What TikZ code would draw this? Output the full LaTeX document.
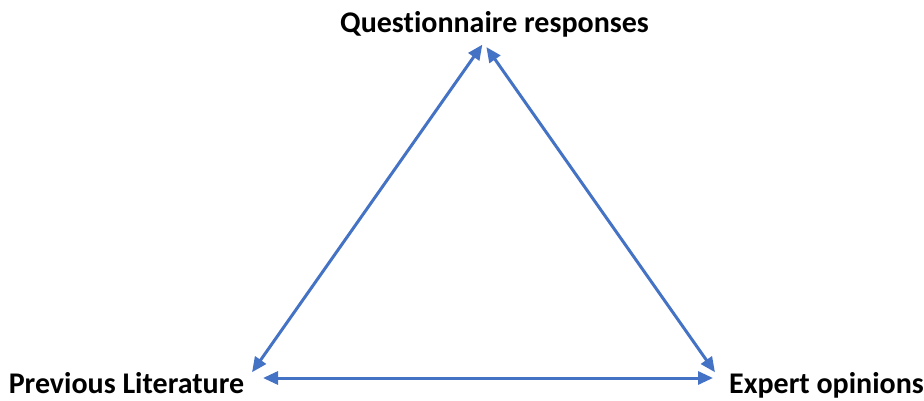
\documentclass[tikz,border=0pt]{standalone}
\usepackage{fontspec}
\setmainfont{Carlito}[Ligatures=CommonOff]
\usetikzlibrary{arrows.meta}

\definecolor{officeblue}{HTML}{4472C4}

\begin{document}
\begin{tikzpicture}[
    x=1pt, y=-1pt,
    label/.style={font=\fontsize{30}{34}\selectfont\bfseries, inner sep=0pt, anchor=base},
    link/.style={{Triangle[length=15pt, width=13pt]}-{Triangle[length=15pt, width=13pt]}, line width=3pt, officeblue}
]
\useasboundingbox (0,0) rectangle (924,401);

% Labels
\node[label] (quest) at (494.5,33) {Questionnaire responses};
\node[label] (lit) at (126.5,393) {Previous Literature};
\node[label] (expert) at (826.5,393) {Expert opinions};

% Corners of the triangle
\coordinate (top) at (483.5,43);
\coordinate (left) at (248,378);
\coordinate (right) at (719,378);

% Arrows
\draw[link, shorten <=7pt, shorten >=2pt] (left) -- (top);
\draw[link, shorten <=5pt, shorten >=7pt] (top) -- (right);
\draw[link, shorten <=15pt, shorten >=6pt] (left) -- (right);
\end{tikzpicture}
\end{document}
